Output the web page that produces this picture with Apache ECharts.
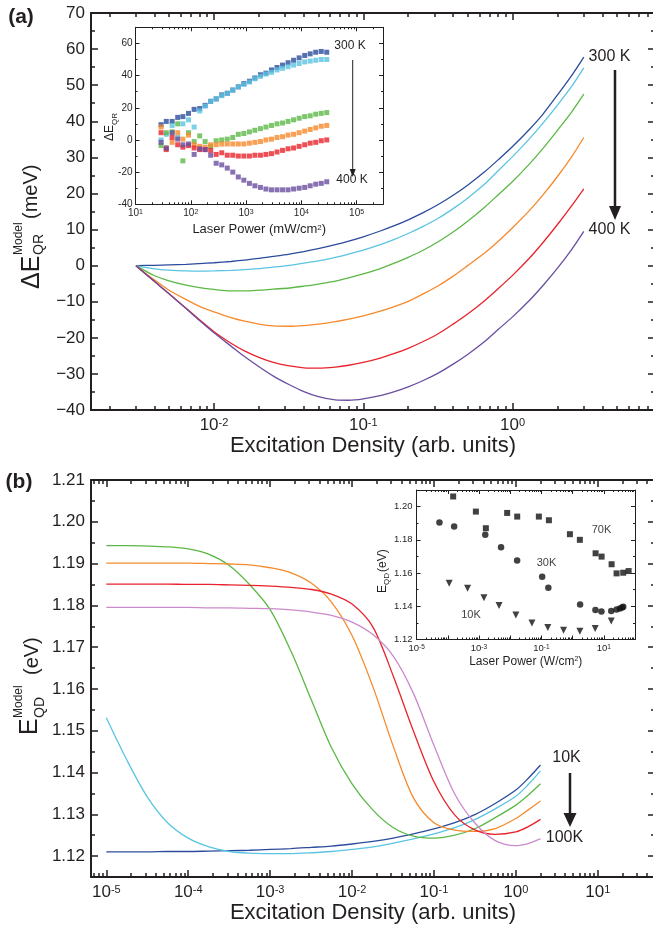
<!DOCTYPE html>
<html>
<head>
<meta charset="utf-8">
<script src="https://cdn.jsdelivr.net/npm/echarts@6/dist/echarts.min.js"></script>
<style>
html, body { margin: 0; padding: 0; background: #fff; }
#chart { width: 653px; height: 939px; }
</style>
</head>
<body>
<div id="chart"></div>
<script>
var ink = '#231f20';
var font = 'Liberation Sans, Arial, Helvetica, sans-serif';

// ---- panel (a): model curves, 300 K .. 400 K ----
var densA = [0.003, 0.004, 0.005, 0.0065, 0.008, 0.01, 0.013, 0.016, 0.02, 0.025, 0.032, 0.04, 0.05, 0.065, 0.08, 0.1, 0.13, 0.16, 0.2, 0.25, 0.32, 0.4, 0.5, 0.65, 0.8, 1, 1.3, 1.6, 2, 2.5, 3];
var dA300 = [0, 0.1, 0.2, 0.35, 0.55, 0.8, 1.15, 1.5, 2.0, 2.55, 3.2, 3.9, 4.7, 5.8, 6.8, 8.0, 9.6, 11.0, 12.7, 14.6, 17.0, 19.5, 22.3, 26.0, 29.3, 33.0, 37.8, 42.0, 47.3, 52.8, 57.8];
var dA320 = [0, -0.9, -1.25, -1.45, -1.5, -1.45, -1.3, -1.1, -0.8, -0.4, 0.1, 0.7, 1.3, 2.3, 3.2, 4.3, 5.8, 7.2, 8.9, 10.8, 13.2, 15.8, 18.7, 22.6, 26.3, 30.2, 35.2, 39.5, 44.5, 49.8, 54.8];
var dA340 = [0, -2.8, -4.2, -5.4, -6.1, -6.6, -7.0, -7.0, -6.8, -6.5, -6.2, -5.7, -5.1, -4.3, -3.4, -2.3, -0.8, 0.6, 2.3, 4.2, 6.7, 9.3, 12.3, 16.2, 19.6, 23.3, 28.2, 32.5, 37.5, 42.7, 47.5];
var dA360 = [0, -4.0, -6.8, -9.4, -11.3, -12.8, -14.4, -15.4, -16.2, -16.7, -16.8, -16.6, -16.2, -15.5, -14.8, -13.9, -12.6, -11.4, -9.9, -7.9, -5.5, -2.9, 0.0, 3.5, 6.7, 10.5, 15.3, 19.6, 24.7, 30.3, 35.5];
var dA380 = [0, -4.4, -7.8, -11.8, -15.0, -18.3, -21.5, -23.6, -25.4, -26.8, -27.8, -28.3, -28.4, -28.1, -27.6, -26.8, -25.6, -24.4, -22.9, -21.1, -18.8, -16.2, -13.4, -9.7, -6.4, -2.7, 2.1, 6.4, 11.4, 16.7, 21.3];
var dA400 = [0, -4.4, -7.8, -11.9, -15.2, -18.6, -22.3, -25.2, -28.0, -30.6, -33.0, -34.9, -36.3, -37.2, -37.3, -36.9, -36.0, -35.0, -33.6, -31.9, -29.7, -27.3, -24.6, -21.0, -17.7, -14.2, -9.6, -5.5, -0.7, 4.6, 9.5];

// ---- panel (a) inset: measured dE_QR vs laser power (mW/cm2) ----
var pA = [29, 36, 46, 58, 72, 91, 115, 145, 182, 229, 288, 363, 457, 575, 724, 912, 1150, 1445, 1820, 2290, 2880, 3630, 4570, 5750, 7240, 9120, 11500, 14450, 18200, 22900, 28800];
var q300 = [9.5, 11.5, 11.5, 14, 14.5, 16.5, 19, 19.5, 21.5, 24, 25.5, 28, 29, 31, 33, 35, 36.5, 38.5, 40.5, 41.5, 43.5, 45, 46.5, 48, 49.5, 51, 52.5, 53.5, 54.5, 55, 54.5];
var q320 = [0, 3.5, 9, 1.5, 10, 12.5, 8, 18, 21, 24, 25.5, 27.5, 29, 31, 33, 34.5, 36, 38, 39.5, 41, 42, 43.5, 44.5, 45.5, 46.5, 47.5, 48.5, 49, 49.5, 50, 50];
var q340 = [-3.5, 4.5, 5, 10, -13, 4.5, -1, 2.5, -1, -4, -0.5, 0, 0.5, 1.5, 3.5, 4, 5, 6, 7, 8, 9, 10, 10.5, 11.5, 12.5, 13.5, 14.5, 15, 16, 16.5, 17];
var q360 = [8, -5, -1.5, 4.5, 0.5, 3, -3, -4, -4.5, -3, -3, -2.5, -2.5, -2.5, -2.5, -2.5, -2, -1.5, -1, 0, 0.5, 1.5, 2, 3, 3.5, 4.5, 5.5, 6.5, 7.5, 8.5, 9];
var q380 = [4.5, -6, 1.5, -3, -4.5, -3.5, -5, -6, -6, -6.5, -9, -8, -9.5, -9.5, -10, -10, -10, -9.5, -9.5, -9, -8.5, -7.5, -6.5, -5.5, -5, -4, -3, -2, -1.5, -0.5, 0];
var q400 = [-1.5, -5, 4.5, 0.5, -3, -2.5, -9, -5.5, -6, -9.5, -14.5, -15.5, -17.5, -20, -23, -25, -27, -28.5, -29.5, -30.5, -31, -31, -31, -31, -30.5, -30, -29.5, -28.5, -27.5, -27, -26];

// ---- panel (b): model curves, 10K .. 100K ----
var densB = [1e-5, 1.8e-5, 3.2e-5, 5.6e-5, 1e-4, 1.8e-4, 3.2e-4, 5.6e-4, 1e-3, 1.8e-3, 3.2e-3, 5.6e-3, 0.01, 0.018, 0.032, 0.056, 0.1, 0.18, 0.32, 0.56, 1, 1.4, 2];
var b10  = [1.1210, 1.1210, 1.1210, 1.1211, 1.1211, 1.1212, 1.1213, 1.1214, 1.1216, 1.1218, 1.1221, 1.1224, 1.1229, 1.1235, 1.1243, 1.1253, 1.1265, 1.1280, 1.1300, 1.1326, 1.1358, 1.1385, 1.1418];
var b20  = [1.1531, 1.1428, 1.1340, 1.1280, 1.1243, 1.1222, 1.1211, 1.1207, 1.1206, 1.1206, 1.1208, 1.1211, 1.1216, 1.1222, 1.1231, 1.1241, 1.1253, 1.1268, 1.1288, 1.1313, 1.1343, 1.1370, 1.1404];
var b30  = [1.1943, 1.1943, 1.1942, 1.1940, 1.1935, 1.1922, 1.1895, 1.1850, 1.1790, 1.1690, 1.1573, 1.1460, 1.1373, 1.1310, 1.1268, 1.1248, 1.1243, 1.1250, 1.1266, 1.1292, 1.1322, 1.1345, 1.1373];
var b50  = [1.1901, 1.1901, 1.1901, 1.1901, 1.1901, 1.1900, 1.1899, 1.1897, 1.1890, 1.1878, 1.1853, 1.1808, 1.1728, 1.1605, 1.1462, 1.1340, 1.1280, 1.1262, 1.1259, 1.1266, 1.1290, 1.1310, 1.1332];
var b70  = [1.1851, 1.1851, 1.1851, 1.1851, 1.1850, 1.1850, 1.1849, 1.1848, 1.1846, 1.1843, 1.1838, 1.1827, 1.1803, 1.1748, 1.1630, 1.1500, 1.1378, 1.1298, 1.1262, 1.1252, 1.1258, 1.1270, 1.1288];
var b100 = [1.1795, 1.1795, 1.1795, 1.1795, 1.1795, 1.1794, 1.1794, 1.1793, 1.1792, 1.1789, 1.1784, 1.1776, 1.1760, 1.1730, 1.1678, 1.1590, 1.1465, 1.1348, 1.1278, 1.1237, 1.1225, 1.1230, 1.1241];

// ---- panel (b) inset: measured E_QD vs laser power (W/cm2) ----
var pw70 = [1.49e-4, 7.96e-4, 1.66e-3, 8.0e-3, 0.0168, 0.083, 0.174, 0.82, 1.71, 5.46, 8.5, 17.8, 25.7, 41.9, 62.4];
var eq70 = [1.2061, 1.1970, 1.1870, 1.1962, 1.1940, 1.1940, 1.1918, 1.1834, 1.1800, 1.1719, 1.1699, 1.1653, 1.1598, 1.1602, 1.1612];
var pw30 = [5.4e-5, 1.6e-4, 1.59e-3, 5.1e-3, 0.0167, 0.106, 0.167, 1.74, 5.4, 8.4, 17.3, 25.7, 32.8, 38.9, 41.9];
var eq30 = [1.1904, 1.1880, 1.1830, 1.1755, 1.1675, 1.1578, 1.1512, 1.1411, 1.1377, 1.1369, 1.1371, 1.1381, 1.1387, 1.1393, 1.1397];
var pw10 = [1.11e-4, 4.3e-4, 1.44e-3, 4.4e-3, 0.0152, 0.0497, 0.161, 0.514, 1.71, 5.3, 17.3];
var eq10 = [1.1538, 1.1508, 1.1451, 1.1405, 1.1347, 1.1300, 1.1272, 1.1256, 1.1250, 1.1266, 1.1312];

// tick label values
var inBLabels = [1e-5, 1e-3, 0.1, 10];

var colA = ['#2b4c9c', '#5ac4e2', '#5cb846', '#f68a2c', '#e8232b', '#6a4e9f'];
var colB = ['#2b4c9c', '#5ac4e2', '#5cb846', '#f68a2c', '#e8232b', '#cc8acb'];

// tick helpers
function decades(lo, hi) {
  var out = [];
  for (var d = -8; d <= 8; d++) {
    var v = parseFloat(Math.pow(10, d).toPrecision(6));
    if (v >= lo * 0.999 && v <= hi * 1.001) out.push(v);
  }
  return out;
}
function logMinors(lo, hi) {
  var out = [];
  for (var d = -8; d <= 8; d++) {
    for (var k = 2; k <= 9; k++) {
      var v = parseFloat((k * Math.pow(10, d)).toPrecision(6));
      if (v >= lo && v <= hi) out.push(v);
    }
  }
  return out;
}
function steps(a, b, s) {
  var out = [], n = Math.round((b - a) / s);
  for (var i = 0; i <= n; i++) out.push(Math.round((a + i * s) * 10000) / 10000);
  return out;
}
function powLabel(v) {
  return '{b|10}{s|' + Math.round(Math.log(v) / Math.LN10) + '}';
}
function signed(v) {
  return v < 0 ? '\u2212' + (-v) : String(v);
}

var xAxes = [], yAxes = [];
function addAxes(list, o) {
  var first = list.length;
  o.pos.forEach(function (pos, side) {
    var main = {
      gridIndex: o.grid, type: o.type, min: o.min, max: o.max, position: pos,
      axisLine: { show: true, onZero: false, lineStyle: { color: ink, width: o.lw } },
      axisTick: { show: true, inside: true, length: o.maj, customValues: o.majors, lineStyle: { color: ink, width: o.tw } },
      axisLabel: { show: false },
      splitLine: { show: false }
    };
    if (side === 0) {
      main.axisLabel = {
        show: true, customValues: o.labels, formatter: o.fmt, margin: o.margin,
        color: ink, fontFamily: font, fontSize: o.fs, rich: o.rich
      };
      if (o.name) {
        main.name = o.name;
        main.nameLocation = 'middle';
        main.nameGap = o.nameGap;
        main.nameTextStyle = { color: ink, fontFamily: font, fontSize: o.nameSize, rich: o.nameRich };
      }
    }
    list.push(main);
    list.push({
      gridIndex: o.grid, type: o.type, min: o.min, max: o.max, position: pos,
      axisLine: { show: false, onZero: false },
      axisTick: { show: true, inside: true, length: o.mnr, customValues: o.minors, lineStyle: { color: ink, width: o.tw } },
      axisLabel: { show: false },
      splitLine: { show: false }
    });
  });
  return first;
}

var richMain = { b: { fontSize: 17, fontFamily: font, color: ink }, s: { fontSize: 11, fontFamily: font, color: ink, verticalAlign: 'top' } };
var richIn = { b: { fontSize: 10, fontFamily: font, color: ink }, s: { fontSize: 7, fontFamily: font, color: ink, verticalAlign: 'top' } };
var supRich = function (fs) { return { sup: { fontSize: fs, fontFamily: font, color: ink, verticalAlign: 'top' } }; };

// panel (a) main
var axAx = addAxes(xAxes, {
  grid: 0, type: 'log', min: 0.0015, max: 9, pos: ['bottom', 'top'],
  majors: decades(0.0015, 9), minors: logMinors(0.0015, 9), labels: decades(0.0015, 9),
  fmt: powLabel, rich: richMain, fs: 17, margin: 7, lw: 2, tw: 1.5, maj: 7, mnr: 4,
  name: 'Excitation Density (arb. units)', nameGap: 24, nameSize: 22
});
var ayA = addAxes(yAxes, {
  grid: 0, type: 'value', min: -40, max: 70, pos: ['left', 'right'],
  majors: steps(-40, 70, 10), minors: steps(-35, 65, 10), labels: steps(-40, 70, 10),
  fmt: signed, fs: 17, margin: 6, lw: 2, tw: 1.5, maj: 7, mnr: 4
});
// panel (a) inset
var axAi = addAxes(xAxes, {
  grid: 1, type: 'log', min: 10, max: 300000, pos: ['bottom', 'top'],
  majors: decades(10, 300000), minors: logMinors(10, 300000), labels: decades(10, 300000),
  fmt: powLabel, rich: richIn, fs: 10, margin: 4, lw: 1, tw: 1, maj: 4, mnr: 2,
  name: 'Laser Power (mW/cm{sup|2})', nameGap: 19, nameSize: 13, nameRich: supRich(8)
});
var ayAi = addAxes(yAxes, {
  grid: 1, type: 'value', min: -40, max: 70, pos: ['left', 'right'],
  majors: steps(-40, 60, 20), minors: steps(-30, 70, 20), labels: steps(-40, 60, 20),
  fmt: function (v) { return String(v); }, fs: 10, margin: 3, lw: 1, tw: 1, maj: 4, mnr: 2
});
// panel (b) main
var axB = addAxes(xAxes, {
  grid: 2, type: 'log', min: 6.5e-6, max: 50, pos: ['bottom', 'top'],
  majors: decades(6.5e-6, 50), minors: logMinors(6.5e-6, 50), labels: decades(6.5e-6, 50),
  fmt: powLabel, rich: richMain, fs: 17, margin: 7, lw: 2, tw: 1.5, maj: 7, mnr: 4,
  name: 'Excitation Density (arb. units)', nameGap: 24, nameSize: 22
});
var ayB = addAxes(yAxes, {
  grid: 2, type: 'value', min: 1.115, max: 1.21, pos: ['left', 'right'],
  majors: steps(1.12, 1.21, 0.01), minors: steps(1.115, 1.205, 0.01), labels: steps(1.12, 1.21, 0.01),
  fmt: function (v) { return v.toFixed(2); }, fs: 17, margin: 6, lw: 2, tw: 1.5, maj: 7, mnr: 4
});
// panel (b) inset
var axBi = addAxes(xAxes, {
  grid: 3, type: 'log', min: 9.95e-6, max: 100, pos: ['bottom', 'top'],
  majors: decades(9.95e-6, 100), minors: logMinors(9.95e-6, 100), labels: inBLabels,
  fmt: powLabel, rich: { b: { fontSize: 9.5, fontFamily: font, color: ink }, s: { fontSize: 6.5, fontFamily: font, color: ink, verticalAlign: 'top' } },
  fs: 9.5, margin: 4, lw: 1, tw: 1, maj: 4, mnr: 2,
  name: 'Laser Power (W/cm{sup|2})', nameGap: 16, nameSize: 12, nameRich: supRich(7)
});
var ayBi = addAxes(yAxes, {
  grid: 3, type: 'value', min: 1.12, max: 1.21, pos: ['left', 'right'],
  majors: steps(1.12, 1.2, 0.02), minors: steps(1.13, 1.19, 0.02), labels: steps(1.12, 1.2, 0.02),
  fmt: function (v) { return v.toFixed(2); }, fs: 9.5, margin: 4, lw: 1, tw: 1, maj: 4, mnr: 2
});

function pairs(xs, ys) { return xs.map(function (x, i) { return [x, ys[i]]; }); }

var series = [];
[dA300, dA320, dA340, dA360, dA380, dA400].forEach(function (arr, i) {
  series.push({ type: 'line', xAxisIndex: axAx, yAxisIndex: ayA, data: pairs(densA, arr),
    showSymbol: false, smooth: 0.3, lineStyle: { color: colA[i], width: 1.3 }, z: 3 });
});
[q300, q320, q340, q360, q380, q400].forEach(function (arr, i) {
  series.push({ type: 'scatter', xAxisIndex: axAi, yAxisIndex: ayAi, data: pairs(pA, arr),
    symbol: 'rect', symbolSize: 5, itemStyle: { color: colA[i] }, z: 4 });
});
[b10, b20, b30, b50, b70, b100].forEach(function (arr, i) {
  series.push({ type: 'line', xAxisIndex: axB, yAxisIndex: ayB, data: pairs(densB, arr),
    showSymbol: false, smooth: 0.3, lineStyle: { color: colB[i], width: 1.3 }, z: 3 });
});
series.push({ type: 'scatter', xAxisIndex: axBi, yAxisIndex: ayBi, data: pairs(pw70, eq70),
  symbol: 'rect', symbolSize: 6, itemStyle: { color: '#111' }, z: 4 });
series.push({ type: 'scatter', xAxisIndex: axBi, yAxisIndex: ayBi, data: pairs(pw30, eq30),
  symbol: 'circle', symbolSize: 6.5, itemStyle: { color: '#111' }, z: 4 });
series.push({ type: 'scatter', xAxisIndex: axBi, yAxisIndex: ayBi, data: pairs(pw10, eq10),
  symbol: 'triangle', symbolRotate: 180, symbolSize: 7, itemStyle: { color: '#111' }, z: 4 });

// annotations
var g = [];
function txt(x, y, s, size, o) {
  o = o || {};
  g.push({ type: 'text', x: x, y: y, rotation: o.rot || 0, silent: true, z: 100,
    style: { text: s, fill: o.color || ink, fontFamily: font, fontSize: size, fontWeight: o.bold ? 'bold' : 'normal',
      align: o.align || 'center', verticalAlign: 'middle' } });
}
function arrow(x, y1, y2, w, hw, hh) {
  g.push({ type: 'line', silent: true, z: 100, shape: { x1: x, y1: y1, x2: x, y2: y2 - hh + 1 }, style: { stroke: ink, lineWidth: w } });
  g.push({ type: 'polygon', silent: true, z: 100, shape: { points: [[x - hw / 2, y2 - hh], [x + hw / 2, y2 - hh], [x, y2]] }, style: { fill: ink } });
}
var R = Math.PI / 2;
txt(21, 17, '(a)', 21, { bold: true });
txt(19, 482, '(b)', 21, { bold: true });
// y titles, panel (a)
txt(32, 289, '\u0394E', 25, { rot: R, align: 'left' });
txt(39, 255, 'QR', 14, { rot: R, align: 'left' });
txt(18.5, 255, 'Model', 12, { rot: R, align: 'left' });
txt(31, 219, '(meV)', 20, { rot: R, align: 'left' });
// y titles, panel (b)
txt(30, 735, 'E', 25, { rot: R, align: 'left' });
txt(40, 718, 'QD', 14, { rot: R, align: 'left' });
txt(18.5, 718, 'Model', 12, { rot: R, align: 'left' });
txt(32, 675, '(eV)', 20, { rot: R, align: 'left' });
// inset y titles
txt(110, 141, '\u0394E', 12, { rot: R, align: 'left' });
txt(114.5, 125, 'QR', 8, { rot: R, align: 'left' });
txt(383, 593, 'E', 12, { rot: R, align: 'left' });
txt(387, 585, 'QD', 8, { rot: R, align: 'left' });
txt(383, 572, '(eV)', 12, { rot: R, align: 'left' });
// temperature labels and arrows
txt(609.5, 57, '300 K', 16);
txt(609.5, 230, '400 K', 16);
arrow(615, 70, 220, 2.5, 12, 14);
txt(350, 46, '300 K', 12);
txt(352, 180, '400 K', 12);
arrow(352.7, 60, 177, 1, 6, 8);
txt(566.5, 758, '10K', 16);
txt(564.5, 838, '100K', 16);
arrow(570, 773, 827, 2.5, 13, 14);
txt(601.5, 530, '70K', 11, { color: '#444' });
txt(546.5, 563, '30K', 11, { color: '#444' });
txt(471, 615, '10K', 11, { color: '#444' });

var chart = echarts.init(document.getElementById('chart'), null, { renderer: 'canvas' });
chart.setOption({
  animation: false,
  backgroundColor: '#fff',
  textStyle: { fontFamily: font, color: ink },
  grid: [
    { left: 91, top: 13, width: 564, height: 397, outerBoundsMode: 'none' },
    { left: 135.5, top: 27.3, width: 247.5, height: 177, show: true, backgroundColor: '#fff', borderWidth: 0, outerBoundsMode: 'none' },
    { left: 91, top: 480, width: 564, height: 397, outerBoundsMode: 'none' },
    { left: 416.5, top: 490, width: 218.5, height: 149.5, show: true, backgroundColor: '#fff', borderWidth: 0, outerBoundsMode: 'none' }
  ],
  xAxis: xAxes,
  yAxis: yAxes,
  series: series,
  graphic: { elements: g }
});
</script>
</body>
</html>
